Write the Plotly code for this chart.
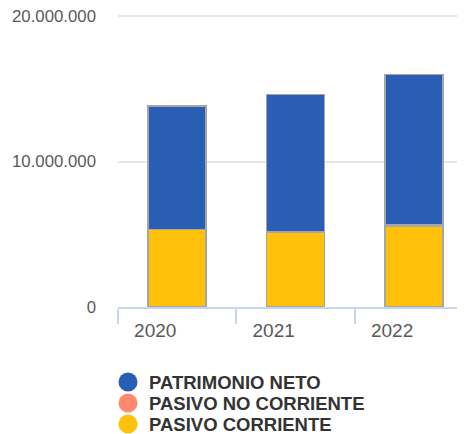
import plotly.graph_objects as go

years = ["2020", "2021", "2022"]
pasivo_corriente = [5320000, 5110000, 5550000]
pasivo_no_corriente = [20000, 90000, 90000]
patrimonio_neto = [8490000, 9390000, 10330000]

series = [
    ("PASIVO CORRIENTE", pasivo_corriente, "#FFC10A"),
    ("PASIVO NO CORRIENTE", pasivo_no_corriente, "#FF8A70"),
    ("PATRIMONIO NETO", patrimonio_neto, "#2A5EB4"),
]
legend_order = ["PATRIMONIO NETO", "PASIVO NO CORRIENTE", "PASIVO CORRIENTE"]

fig = go.Figure()
for name, vals, col in series:
    fig.add_trace(go.Bar(
        x=years, y=vals, name=name, marker_color=col,
        marker_line_color="#A6A6A6", marker_line_width=1.5,
        width=0.49, showlegend=False,
    ))

# custom legend (circles + bold labels) below the plot
colors = {n: c for n, _, c in series}
leg_y0 = -0.256
leg_dy = 0.0717
for i, name in enumerate(legend_order):
    yy = leg_y0 - i * leg_dy
    fig.add_shape(
        type="circle", xref="paper", yref="paper",
        xsizemode="pixel", ysizemode="pixel",
        xanchor=0.0288, yanchor=yy,
        x0=-9.5, x1=9.5, y0=-9.5, y1=9.5,
        fillcolor=colors[name], line_width=0,
    )
    fig.add_annotation(
        x=0.0835, y=yy, xref="paper", yref="paper",
        xanchor="left", yanchor="middle", showarrow=False,
        text="<b>%s</b>" % name,
        font=dict(size=18.5, color="#333333", family="Liberation Sans, Arial, sans-serif"),
    )

fig.update_layout(
    width=457, height=426,
    margin=dict(l=110, r=0, t=6, b=127, autoexpand=False),
    barmode="stack", showlegend=False,
    plot_bgcolor="white", paper_bgcolor="white",
    font=dict(family="Liberation Sans, Arial, sans-serif", color="#595959"),
    xaxis=dict(
        type="category", range=[-0.5, 2.43],
        showline=True, linecolor="#C9D5EA", linewidth=1.5,
        ticks="outside", tickson="boundaries", ticklen=15, tickcolor="#C9D5EA",
        tickwidth=1.5, tickfont=dict(size=19, color="#595959"),
        ticklabelshift=-22, ticklabelstandoff=5, showgrid=False,
        automargin=False,
    ),
    yaxis=dict(
        range=[0, 20137000], tickvals=[0, 10000000, 20000000],
        ticktext=["0", "10.000.000", "20.000.000"],
        showgrid=True, gridcolor="#E6E6E6", gridwidth=1.5,
        zeroline=False, tickfont=dict(size=16.8, color="#595959"),
        ticklabelstandoff=21, automargin=False, ticklabeloverflow="allow",
    ),
)

fig.write_html("out.html")
